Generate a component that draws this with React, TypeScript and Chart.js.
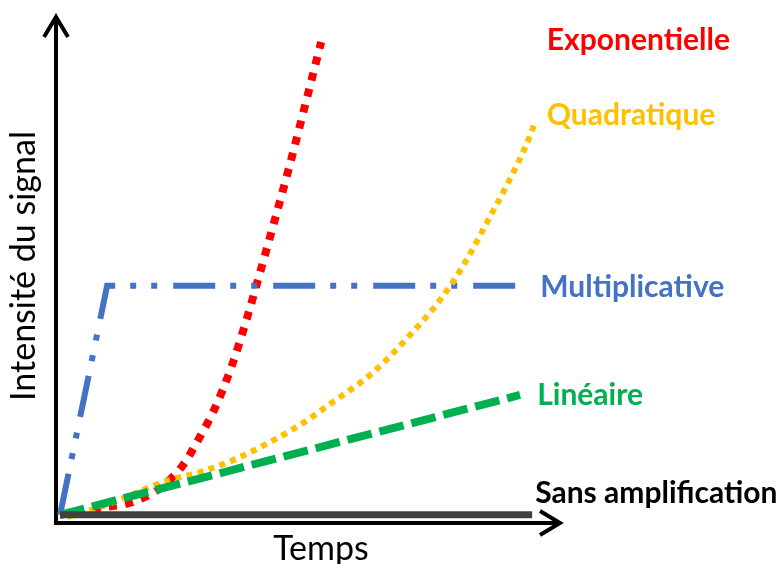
import React, { useEffect, useRef } from "react";
import { Chart, registerables } from "chart.js";

Chart.register(...registerables);

// Data (arbitrary units: time 0..10, intensity 0..10)
const sansX = [0.08, 9.41];
const sansY = [0.16, 0.16];

const linX = [0.08, 9.17];
const linY = [0.16, 2.52];

const multX = [0.08, 1.01, 9.17];
const multY = [0.16, 4.67, 4.67];

const quadX = [0.22, 0.87, 2.25, 2.85, 3.64, 4.82, 5.47, 6.25, 6.96, 7.59, 8.08, 8.54, 8.93, 9.31, 9.47];
const quadY = [0.12, 0.31, 0.85, 1.0, 1.3, 1.93, 2.38, 2.95, 3.66, 4.39, 5.12, 5.96, 6.69, 7.48, 7.89];

const expX = [0.08, 0.87, 1.5, 2.06, 2.51, 2.83, 3.14, 3.48, 3.77, 4.03, 4.62, 4.94, 5.24];
const expY = [0.16, 0.3, 0.41, 0.69, 1.14, 1.67, 2.26, 3.11, 4.02, 4.92, 7.05, 8.29, 9.47];

const labelTexts = ["Exponentielle", "Quadratique", "Multiplicative", "Linéaire", "Sans amplification"];
const labelColors = ["#FF0000", "#FFC000", "#4472C4", "#00B050", "#000000"];
const labelX = [9.7, 9.7, 9.57, 9.51, 9.47];
const labelY = [9.51, 8.03, 4.63, 2.52, 0.59];

const xTitle = "Temps";
const yTitle = "Intensité du signal";

const toPts = (xs: number[], ys: number[]) => xs.map((x, i) => ({ x, y: ys[i] }));

const decorPlugin = {
  id: "decor",
  beforeDatasetsDraw(chart: any) {
    const { ctx, chartArea } = chart;
    const { left, right, top, bottom } = chartArea;
    ctx.save();
    ctx.strokeStyle = "#000";
    ctx.lineWidth = 4;
    ctx.lineJoin = "miter";
    ctx.lineCap = "butt";
    // y axis
    ctx.beginPath();
    ctx.moveTo(left, bottom + 2);
    ctx.lineTo(left, top + 2);
    ctx.stroke();
    ctx.beginPath();
    ctx.moveTo(left - 12, top + 22);
    ctx.lineTo(left, top + 2);
    ctx.lineTo(left + 12, top + 22);
    ctx.stroke();
    // x axis
    ctx.beginPath();
    ctx.moveTo(left - 2, bottom);
    ctx.lineTo(right - 2, bottom);
    ctx.stroke();
    ctx.beginPath();
    ctx.moveTo(right - 22, bottom - 12);
    ctx.lineTo(right - 2, bottom);
    ctx.lineTo(right - 22, bottom + 12);
    ctx.stroke();
    ctx.restore();
  },
  afterDatasetsDraw(chart: any) {
    const { ctx, chartArea, scales } = chart;
    ctx.save();
    ctx.textBaseline = "middle";
    ctx.textAlign = "left";
    ctx.font = "bold 30px Lato";
    labelTexts.forEach((t, i) => {
      ctx.fillStyle = labelColors[i];
      ctx.fillText(t, scales.x.getPixelForValue(labelX[i]), scales.y.getPixelForValue(labelY[i]));
    });
    ctx.fillStyle = "#000";
    ctx.font = "34px Lato";
    ctx.textAlign = "center";
    ctx.fillText(xTitle, 321, chartArea.bottom + 26);
    ctx.translate(24, 266);
    ctx.rotate(-Math.PI / 2);
    ctx.fillText(yTitle, 0, 0);
    ctx.restore();
  },
};

export default function App() {
  const ref = useRef<HTMLCanvasElement>(null);
  useEffect(() => {
    document.body.style.margin = "0";
    const chart = new Chart(ref.current!, {
      type: "line",
      data: {
        datasets: [
          {
            label: "Sans amplification",
            data: toPts(sansX, sansY),
            borderColor: "#404040",
            borderWidth: 7,
            pointRadius: 0,
            tension: 0,
          },
          {
            label: "Linéaire",
            data: toPts(linX, linY),
            borderColor: "#00B050",
            borderWidth: 8,
            borderDash: [25, 8],
            pointRadius: 0,
            tension: 0,
          },
          {
            label: "Quadratique",
            data: toPts(quadX, quadY),
            borderColor: "#FFC000",
            borderWidth: 6,
            borderDash: [6, 5.5],
            pointRadius: 0,
            cubicInterpolationMode: "monotone",
          },
          {
            label: "Multiplicative",
            data: toPts(multX, multY),
            borderColor: "#4472C4",
            borderWidth: 6,
            borderDash: [42, 15, 6, 15, 6, 16],
            pointRadius: 0,
            tension: 0,
          },
          {
            label: "Exponentielle",
            data: toPts(expX, expY),
            borderColor: "#FF0000",
            borderWidth: 8,
            borderDash: [8, 8.5],
            pointRadius: 0,
            cubicInterpolationMode: "monotone",
          },
        ],
      },
      options: {
        animation: false,
        responsive: false,
        layout: { padding: { left: 56, right: 221, top: 15, bottom: 41 } },
        scales: {
          x: { type: "linear", min: 0, max: 10, display: false },
          y: { type: "linear", min: 0, max: 10, display: false },
        },
        plugins: { legend: { display: false }, tooltip: { enabled: false } },
        elements: { line: { fill: false } },
      } as any,
      plugins: [decorPlugin],
    });
    return () => chart.destroy();
  }, []);
  return (
    <div style={{ width: 783, height: 564 }}>
      <canvas ref={ref} width={783} height={564} style={{ display: "block" }} />
    </div>
  );
}
